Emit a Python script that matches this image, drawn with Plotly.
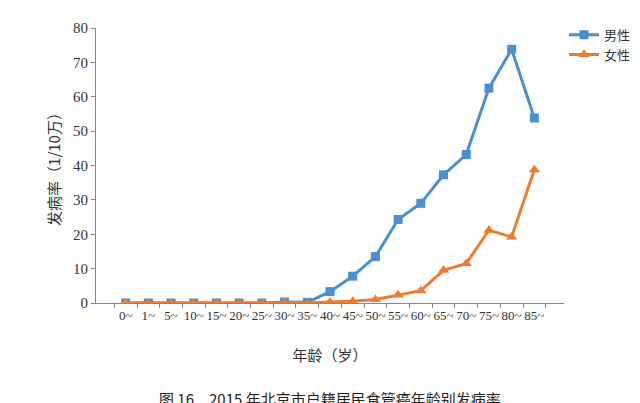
import plotly.graph_objects as go

ages = ["0~","1~","5~","10~","15~","20~","25~","30~","35~","40~","45~","50~","55~","60~","65~","70~","75~","80~","85~"]
male = [0,0,0,0,0,0,0,0.3,0.2,3.3,7.8,13.5,24.3,29.0,37.3,43.2,62.5,73.8,53.8]
female = [0,0,0,0,0,0,0,0,0,0.3,0.5,1.0,2.3,3.6,9.5,11.5,21.2,19.2,38.8]

fig = go.Figure()
fig.add_trace(go.Scatter(x=ages, y=male, name="男性", mode="lines+markers",
    line=dict(color="#4a8fd0", width=3), marker=dict(symbol="square", size=9, color="#4a8fd0")))
fig.add_trace(go.Scatter(x=ages, y=female, name="女性", mode="lines+markers",
    line=dict(color="#ec7c30", width=3), marker=dict(symbol="triangle-up", size=10, color="#ec7c30")))

font = "Noto Sans CJK SC, serif"
serif = "Liberation Serif, serif"
fig.update_layout(
    width=640, height=403, paper_bgcolor="white", plot_bgcolor="white",
    margin=dict(l=88, r=72, t=12, b=108),
    font=dict(family=font, size=13, color="#333"),
    legend=dict(x=1.0, y=1.03, xanchor="left", yanchor="top", tracegroupgap=18,
                font=dict(size=13), bgcolor="rgba(0,0,0,0)"),
    xaxis=dict(showline=True, linecolor="#888", ticks="outside", tickson="boundaries",
               tickcolor="#888", ticklen=4, tickangle=0, tickfont=dict(size=13, family=serif),
               title=dict(text="年龄（岁）", font=dict(size=15), standoff=28)),
    yaxis=dict(range=[0, 80], dtick=10, showline=True, linecolor="#888", ticks="outside",
               tickcolor="#888", ticklen=4, showgrid=False, zeroline=False,
               tickfont=dict(size=15, family=serif),
               title=dict(text="发病率（1/10万）", font=dict(size=15), standoff=8)),
    annotations=[dict(text="图 16　2015 年北京市户籍居民食管癌年龄别发病率", xref="paper", yref="paper",
                      x=0.5, y=-0.3, showarrow=False, yanchor="top",
                      font=dict(size=15, color="#222", family="Noto Sans CJK SC, Liberation Serif"))],
)
fig.write_html("out.html")
